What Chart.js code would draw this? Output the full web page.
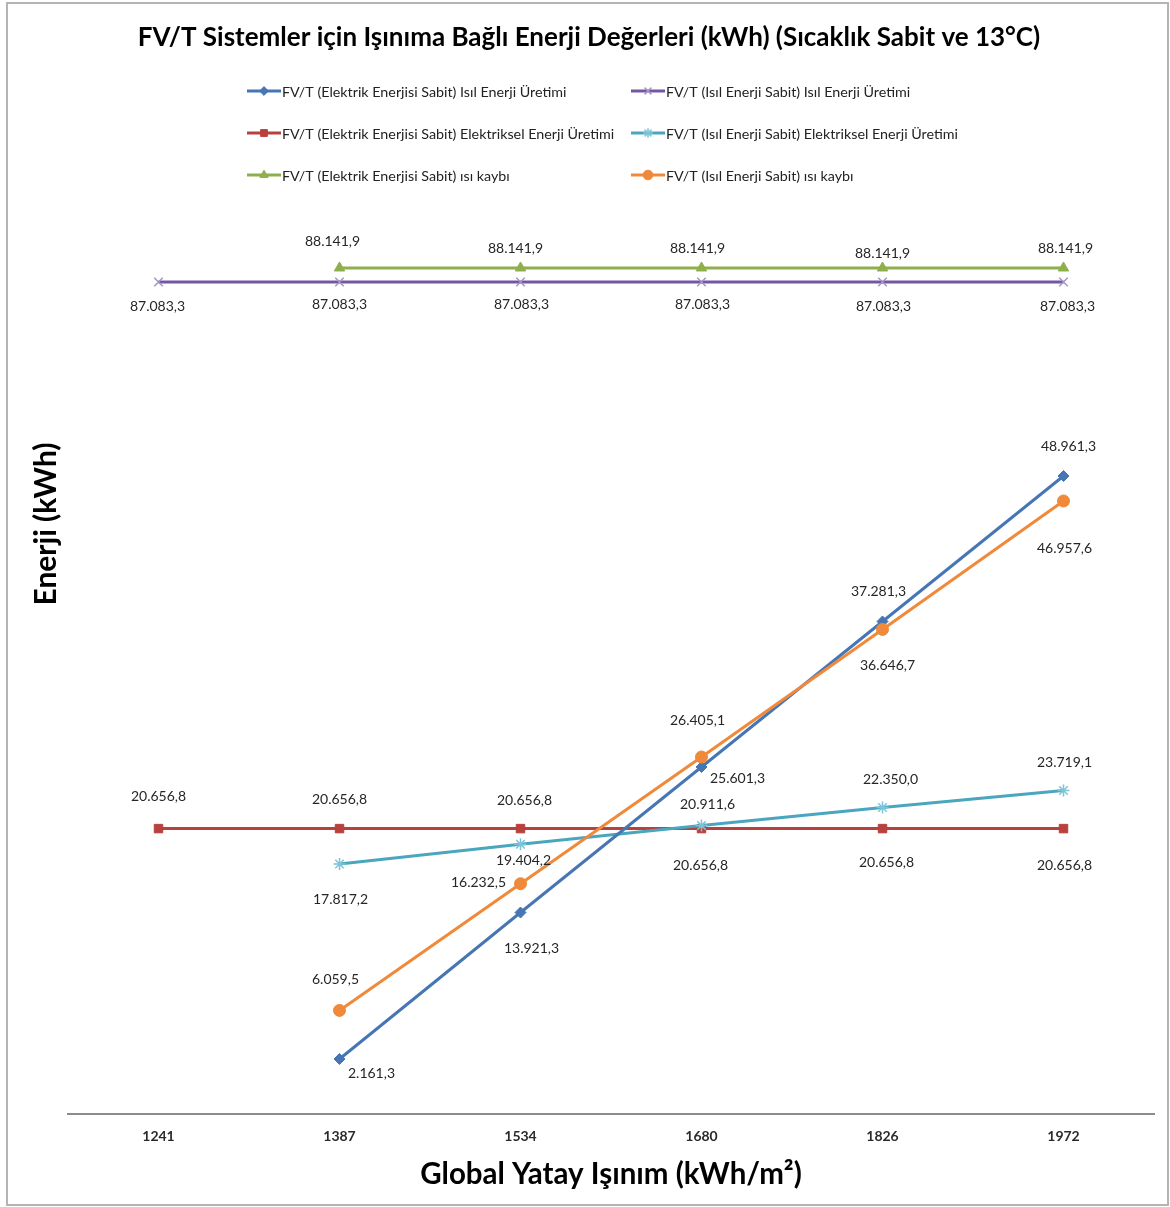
<!DOCTYPE html>
<html>
<head>
<meta charset="utf-8">
<script src="https://cdn.jsdelivr.net/npm/chart.js@4.4.1/dist/chart.umd.min.js"></script>
<style>
    html, body { margin: 0; padding: 0; background: #fff; }
    #wrap { width: 1170px; height: 1207px; position: relative; }
</style>
</head>
<body>
<div id="wrap"><canvas id="energyChart" width="1170" height="1207"></canvas></div>
<script>
// Global horizontal irradiation (kWh/m2)
const categories = ['1241', '1387', '1534', '1680', '1826', '1972'];

// FV/T (Elektrik Enerjisi Sabit)
const elecFixedThermal = [null, 2161.3, 13921.3, 25601.3, 37281.3, 48961.3];
const elecFixedElectric = [20656.8, 20656.8, 20656.8, 20656.8, 20656.8, 20656.8];
const elecFixedHeatLoss = [null, 88141.9, 88141.9, 88141.9, 88141.9, 88141.9];

// FV/T (Isıl Enerji Sabit)
const thermFixedThermal = [87083.3, 87083.3, 87083.3, 87083.3, 87083.3, 87083.3];
const thermFixedElectric = [null, 17817.2, 19404.2, 20911.6, 22350.0, 23719.1];
const thermFixedHeatLoss = [null, 6059.5, 16232.5, 26405.1, 36646.7, 46957.6];

// where each value label sits relative to its point [dx, dy]
const labelOffsets = {
    elecThermal: [null, [32, 14], [11, 36], [36, 11], [-4, -30], [5, -30]],
    elecElectric: [[0, -32], [0, -29], [4, -28], [-1, 37], [4, 34], [1, 37]],
    elecLoss: [null, [-7, -27], [-5, -20], [-4, -20], [0, -15], [2, -20]],
    thermThermal: [[-1, 24], [0, 22], [1, 22], [1, 22], [1, 24], [4, 24]],
    thermElectric: [null, [1, 36], [3, 16], [6, -21], [8, -28], [1, -28]],
    thermLoss: [null, [-4, -31], [-42, -1], [-4, -37], [5, 36], [1, 48]]
};

const FONT = 'Lato, "Open Sans", sans-serif';

function formatTr(v) {
    const parts = v.toFixed(1).split('.');
    const intPart = parts[0].replace(/\B(?=(\d{3})+(?!\d))/g, '.');
    return intPart + ',' + parts[1];
}

function makeSet(key, label, data, color, pointColor, style, radius, axis) {
    return {
        key: key,
        label: label,
        data: data,
        yAxisID: axis,
        borderColor: color,
        backgroundColor: pointColor,
        pointBorderColor: pointColor,
        pointBackgroundColor: pointColor,
        pointStyle: style,
        pointRadius: radius,
        pointBorderWidth: (style === 'crossRot' || style === 'star') ? 1.5 : 1,
        borderWidth: 3,
        tension: 0,
        fill: false
    };
}

const datasets = [
    makeSet('thermLoss', 'FV/T (Isıl Enerji Sabit) ısı kaybı', thermFixedHeatLoss, '#F08A3A', '#F08A3A', 'circle', 6, 'y'),
    makeSet('elecThermal', 'FV/T (Elektrik Enerjisi Sabit) Isıl Enerji Üretimi', elecFixedThermal, '#4676B4', '#4676B4', 'rectRot', 5.5, 'y'),
    makeSet('thermElectric', 'FV/T (Isıl Enerji Sabit) Elektriksel Enerji Üretimi', thermFixedElectric, '#4AA6BF', '#7EC4D8', 'star', 6, 'y'),
    makeSet('elecElectric', 'FV/T (Elektrik Enerjisi Sabit) Elektriksel Enerji Üretimi', elecFixedElectric, '#B8403D', '#B8403D', 'rect', 6, 'y'),
    makeSet('elecLoss', 'FV/T (Elektrik Enerjisi Sabit) ısı kaybı', elecFixedHeatLoss, '#8DB04C', '#8DB04C', 'triangle', 6, 'yTop'),
    makeSet('thermThermal', 'FV/T (Isıl Enerji Sabit) Isıl Enerji Üretimi', thermFixedThermal, '#7457A0', '#A595C4', 'crossRot', 6, 'yTop')
];

// legend layout: two columns, three rows
const legendOrder = [
    ['elecThermal', 'thermThermal'],
    ['elecElectric', 'thermElectric'],
    ['elecLoss', 'thermLoss']
];

const pagePlugin = {
    id: 'pagePlugin',
    beforeDraw(chart) {
        const ctx = chart.ctx;
        ctx.save();
        ctx.fillStyle = '#ffffff';
        ctx.fillRect(0, 0, chart.width, chart.height);
        ctx.restore();
    },
    afterDraw(chart) {
        const ctx = chart.ctx;
        ctx.save();

        // frame
        ctx.strokeStyle = '#b4b4b4';
        ctx.lineWidth = 2;
        ctx.strokeRect(7, 3, 1161, 1202);

        // title
        ctx.fillStyle = '#000';
        ctx.font = 'bold 26px ' + FONT;
        ctx.textAlign = 'center';
        ctx.textBaseline = 'middle';
        ctx.fillText('FV/T Sistemler için Işınıma Bağlı Enerji Değerleri (kWh) (Sıcaklık Sabit ve 13°C)', 589, 38);

        // y axis title
        ctx.save();
        ctx.translate(46, 524);
        ctx.rotate(-Math.PI / 2);
        ctx.font = 'bold 30px ' + FONT;
        ctx.fillText('Enerji (kWh)', 0, 0);
        ctx.restore();

        // legend
        const colX = [247, 631];
        const rowY = [91, 133, 175];
        ctx.font = '14.3px ' + FONT;
        ctx.textAlign = 'left';
        ctx.textBaseline = 'middle';
        legendOrder.forEach(function(row, r) {
            row.forEach(function(key, c) {
                const ds = datasets.find(d => d.key === key);
                const x0 = colX[c];
                const y0 = rowY[r];
                ctx.strokeStyle = ds.borderColor;
                ctx.lineWidth = 3;
                ctx.beginPath();
                ctx.moveTo(x0, y0);
                ctx.lineTo(x0 + 34, y0);
                ctx.stroke();
                ctx.fillStyle = ds.pointBackgroundColor;
                ctx.strokeStyle = ds.pointBorderColor;
                ctx.lineWidth = ds.pointBorderWidth;
                Chart.helpers.drawPoint(ctx, {
                    pointStyle: ds.pointStyle,
                    radius: ds.pointRadius * 0.8,
                    rotation: 0,
                    borderWidth: ds.pointBorderWidth
                }, x0 + 17, y0);
                ctx.fillStyle = '#222';
                ctx.fillText(ds.label, x0 + 35, y0 + 1);
            });
        });

        ctx.restore();
    }
};

const valueLabels = {
    id: 'valueLabels',
    afterDatasetsDraw(chart) {
        const ctx = chart.ctx;
        ctx.save();
        ctx.font = '14px ' + FONT;
        ctx.fillStyle = '#262626';
        ctx.textAlign = 'center';
        ctx.textBaseline = 'middle';
        chart.data.datasets.forEach(function(ds, i) {
            const meta = chart.getDatasetMeta(i);
            const offs = labelOffsets[ds.key];
            meta.data.forEach(function(pt, j) {
                const v = ds.data[j];
                if (v === null || !offs[j]) return;
                ctx.fillText(formatTr(v), pt.x + offs[j][0], pt.y + offs[j][1]);
            });
        });
        ctx.restore();
    }
};

const ctx = document.getElementById('energyChart');
new Chart(ctx, {
    type: 'line',
    data: {
        labels: categories,
        datasets: datasets
    },
    options: {
        responsive: false,
        animation: false,
        layout: {
            padding: { top: 220, left: 68, right: 16, bottom: 0 }
        },
        plugins: {
            legend: { display: false },
            title: { display: false },
            tooltip: { enabled: false }
        },
        scales: {
            x: {
                type: 'category',
                offset: true,
                grid: { display: false, drawTicks: false },
                border: { display: true, color: '#8c8c8c', width: 2 },
                ticks: {
                    padding: 14,
                    color: '#2a2a2a',
                    font: { family: FONT, size: 14, weight: 'bold' }
                },
                title: {
                    display: true,
                    text: 'Global Yatay Işınım (kWh/m²)',
                    color: '#000',
                    font: { family: FONT, size: 29.5, weight: 'bold' },
                    padding: { top: 0, bottom: 15 }
                },
                afterFit: function(scale) { scale.height = 93; }
            },
            // lower band of the broken axis
            y: {
                type: 'linear',
                display: false,
                min: -2254,
                max: 69513
            },
            // upper band for the ~87-88 MWh series
            yTop: {
                type: 'linear',
                display: false,
                min: 24172,
                max: 91771
            }
        }
    },
    plugins: [pagePlugin, valueLabels]
});
</script>
</body>
</html>
